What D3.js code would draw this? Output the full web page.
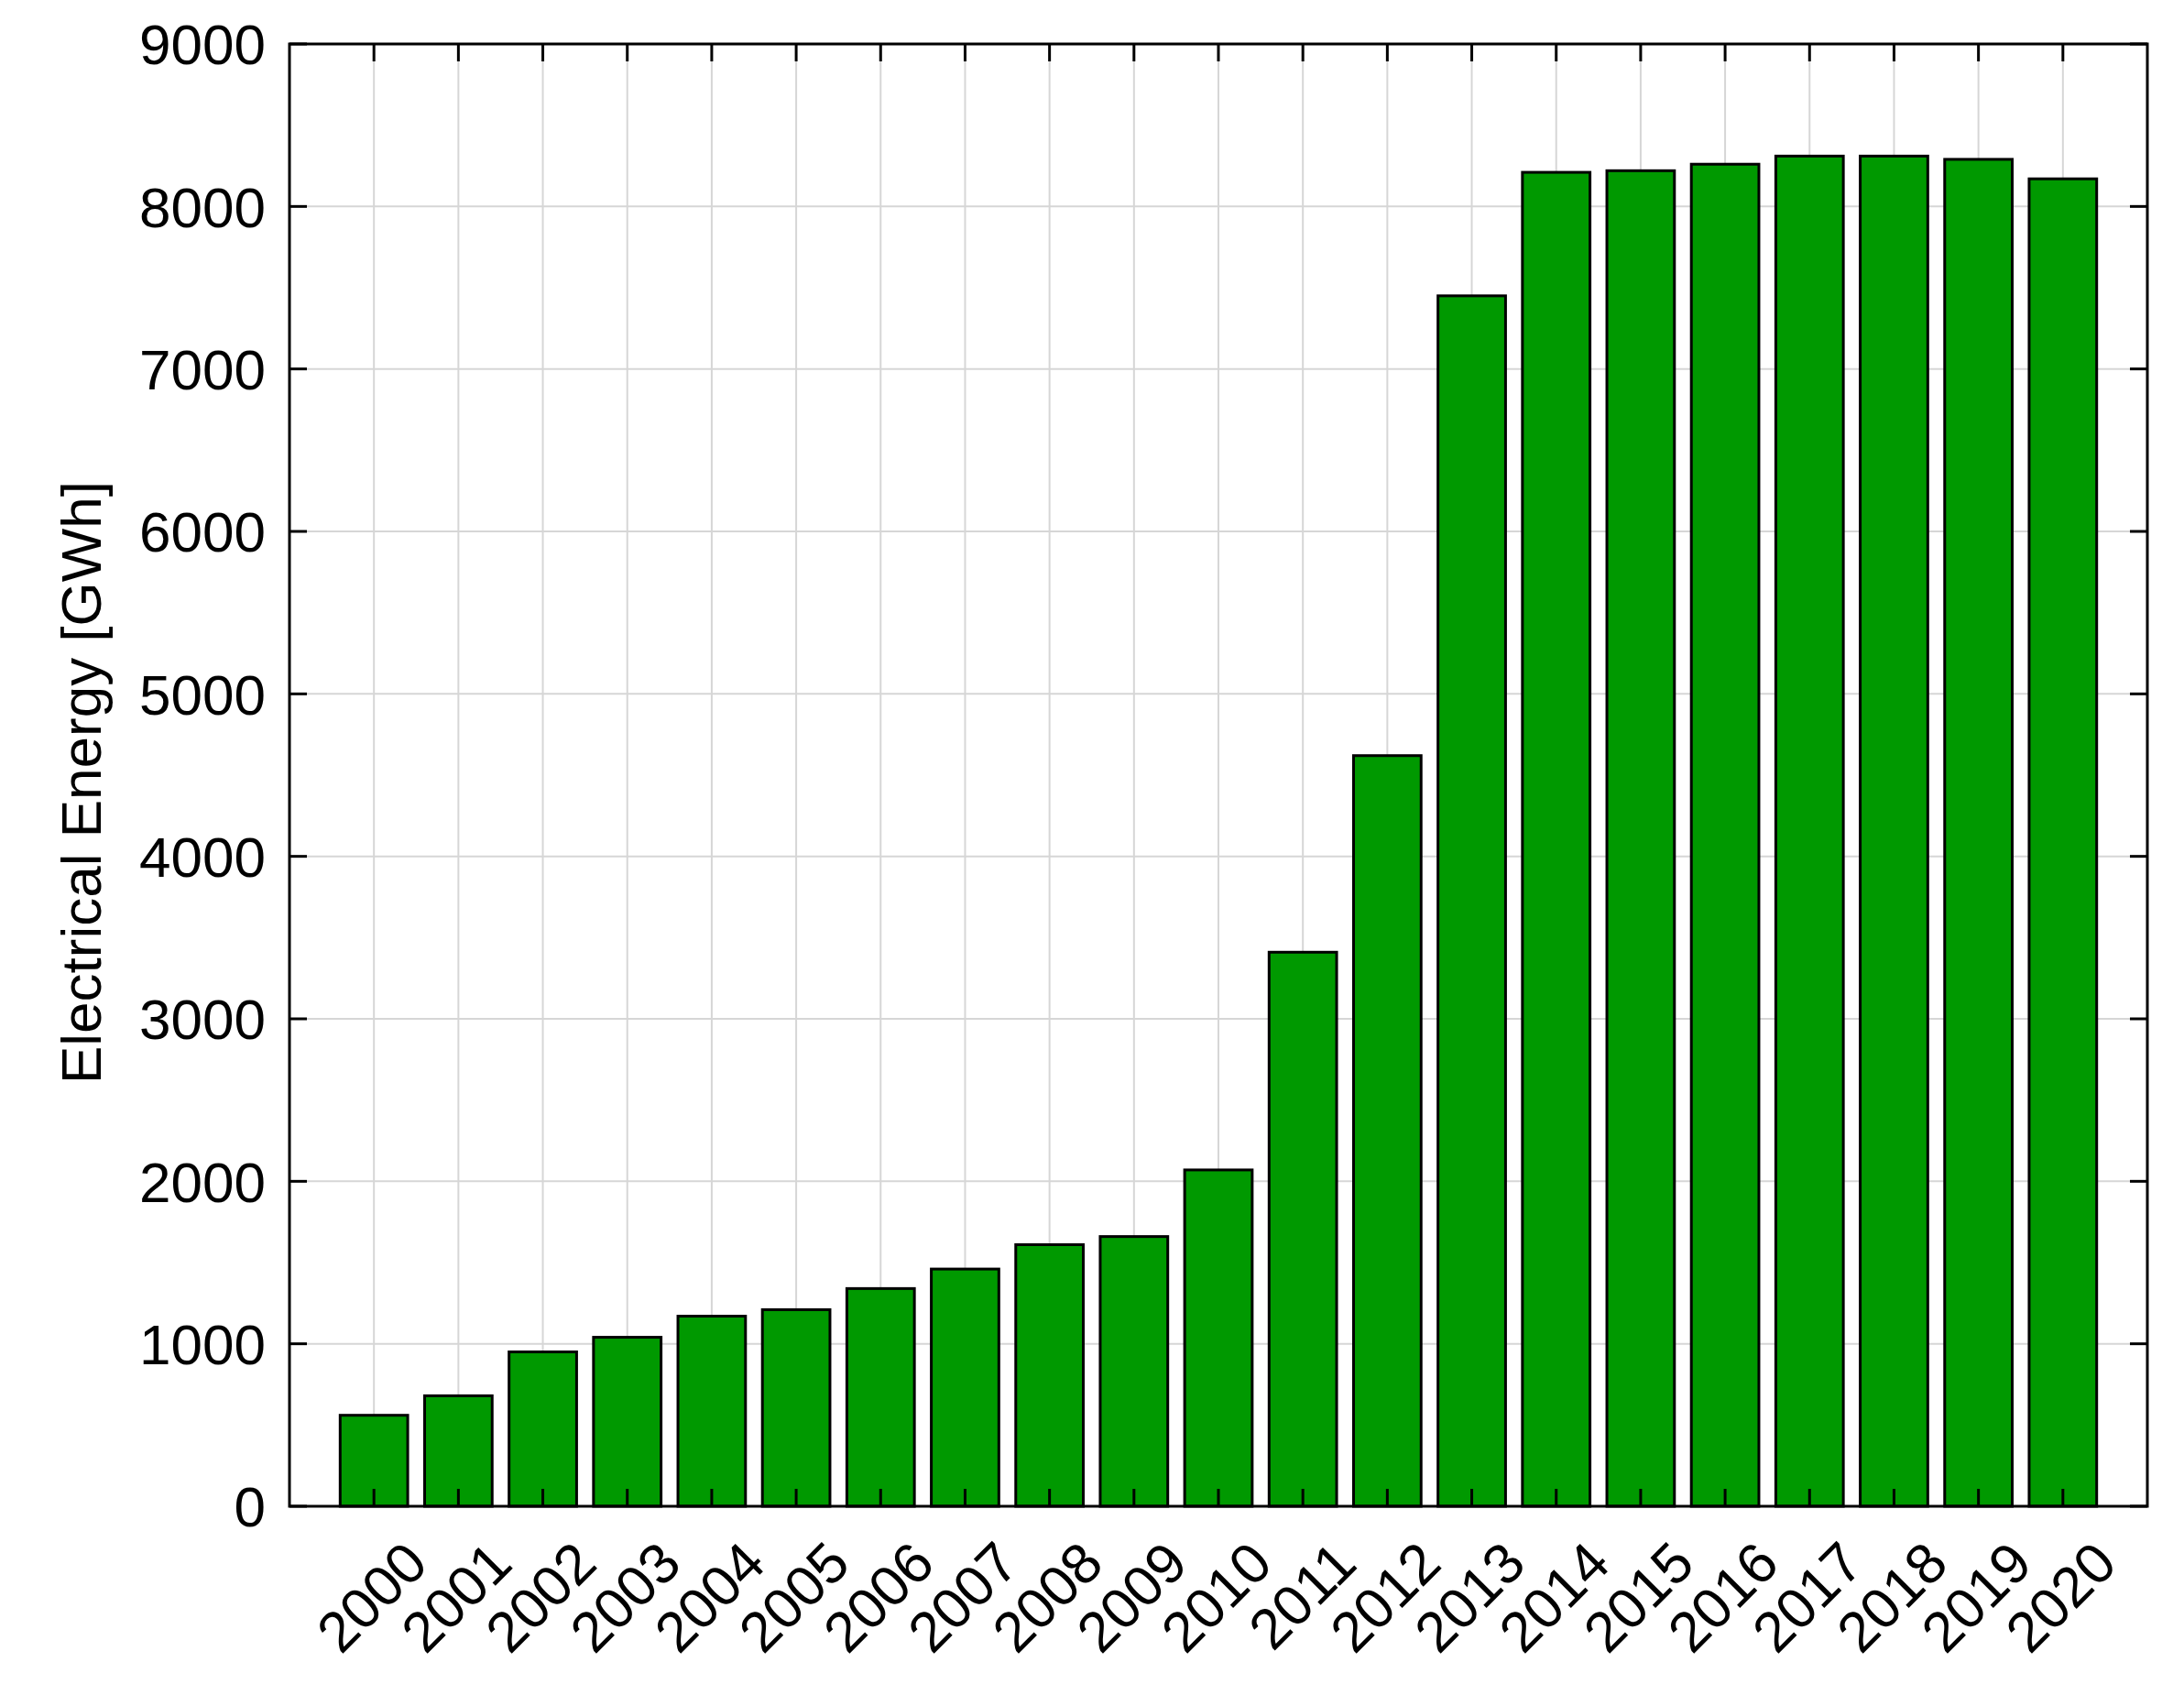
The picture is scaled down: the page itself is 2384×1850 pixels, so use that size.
<!DOCTYPE html><html><head><meta charset="utf-8"><script src="https://cdn.jsdelivr.net/npm/d3@7"></script>
<style>body{margin:0;background:#fff}text{font-family:"Liberation Sans",Arial,sans-serif;fill:#000}</style></head><body><script>
const years=[2000,2001,2002,2003,2004,2005,2006,2007,2008,2009,2010,2011,2012,2013,2014,2015,2016,2017,2018,2019,2020];
const energy=[560,680,950,1040,1170,1210,1340,1460,1610,1660,2070,3410,4620,7450,8210,8220,8260,8310,8310,8290,8170];
const yTicks=[0,1000,2000,3000,4000,5000,6000,7000,8000,9000];
const W=2384,H=1850,L=316,R=2344,T=48,B=1644;
const svg=d3.select("body").append("svg").attr("width",W).attr("height",H);
const x=d3.scaleLinear().domain([1999,2021]).range([L,R]);
const y=d3.scaleLinear().domain([0,9000]).range([B,T]);
const g=svg.append("g");
// grid
g.selectAll(".gx").data(years).join("line").attr("x1",d=>x(d)).attr("x2",d=>x(d)).attr("y1",T).attr("y2",B).attr("stroke","#d6d6d6").attr("stroke-width",2);
g.selectAll(".gy").data(yTicks).join("line").attr("x1",L).attr("x2",R).attr("y1",d=>y(d)).attr("y2",d=>y(d)).attr("stroke","#d6d6d6").attr("stroke-width",2);
// bars
const bw=(x(1)-x(0))*0.8;
g.selectAll(".bar").data(years).join("rect").attr("x",(d)=>x(d)-bw/2).attr("width",bw)
 .attr("y",(d,i)=>y(energy[i])).attr("height",(d,i)=>B-y(energy[i]))
 .attr("fill","#009900").attr("stroke","#000").attr("stroke-width",3);
// frame
svg.append("rect").attr("x",L).attr("y",T).attr("width",R-L).attr("height",B-T).attr("fill","none").attr("stroke","#000").attr("stroke-width",3);
// ticks
const tl=19;
svg.selectAll(".tb").data(years).join("line").attr("x1",d=>x(d)).attr("x2",d=>x(d)).attr("y1",B).attr("y2",B-tl).attr("stroke","#000").attr("stroke-width",3);
svg.selectAll(".tt").data(years).join("line").attr("x1",d=>x(d)).attr("x2",d=>x(d)).attr("y1",T).attr("y2",T+tl).attr("stroke","#000").attr("stroke-width",3);
svg.selectAll(".tyl").data(yTicks).join("line").attr("x1",L).attr("x2",L+tl).attr("y1",d=>y(d)).attr("y2",d=>y(d)).attr("stroke","#000").attr("stroke-width",3);
svg.selectAll(".tyr").data(yTicks).join("line").attr("x1",R).attr("x2",R-tl).attr("y1",d=>y(d)).attr("y2",d=>y(d)).attr("stroke","#000").attr("stroke-width",3);
// labels
svg.selectAll(".yl").data(yTicks).join("text").attr("x",L-26).attr("y",d=>y(d)).attr("dy","0.36em").attr("text-anchor","end").attr("font-size",62).text(d=>d);
svg.selectAll(".xl").data(years).join("text").attr("text-anchor","end").attr("font-size",62)
 .attr("transform",d=>`translate(${x(d)+30},${B+34}) rotate(-45)`).attr("dy","0.72em").text(d=>d);
svg.append("text").attr("transform",`translate(110,${(T+B)/2+8}) rotate(-90)`).attr("text-anchor","middle").attr("font-size",62).text("Electrical Energy [GWh]");
</script></body></html>
